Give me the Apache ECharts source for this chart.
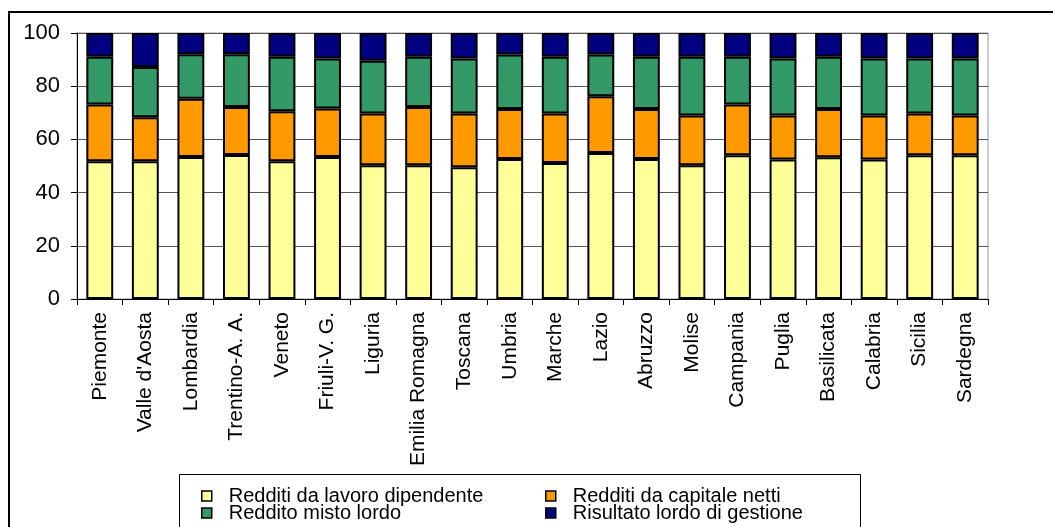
<!DOCTYPE html>
<html>
<head>
<meta charset="utf-8">
<script src="https://cdn.jsdelivr.net/npm/echarts@6/dist/echarts.min.js"></script>
<style>
html,body{margin:0;padding:0;background:#fff;}
#chart{width:1053px;height:527px;}
</style>
</head>
<body>
<div id="chart"></div>
<script>
var regions = ["Piemonte","Valle d'Aosta","Lombardia","Trentino-A. A.","Veneto","Friuli-V. G.","Liguria","Emilia Romagna","Toscana","Umbria","Marche","Lazio","Abruzzo","Molise","Campania","Puglia","Basilicata","Calabria","Sicilia","Sardegna"];
var lavoroDipendente = [51.8,51.8,53.4,54.1,51.8,53.4,50.3,50.3,49.5,52.6,51.1,54.9,52.6,50.3,54.0,52.4,53.3,52.4,54.0,54.0];
var capitaleNetti    = [21.3,16.5,21.9,18.1,18.8,18.2,19.4,21.9,20.2,18.8,18.6,21.3,18.8,18.7,19.1,16.6,18.1,16.6,15.7,15.0];
var mistoLordo       = [18.0,18.9,16.7,19.8,20.5,18.8,19.9,18.9,20.7,20.5,21.4,15.7,19.7,22.1,18.0,21.4,19.7,21.4,20.7,21.4];
var risultatoGestione= [8.9,12.8,8.0,8.0,8.9,9.6,10.4,8.9,9.6,8.1,8.9,8.1,8.9,8.9,8.9,9.6,8.9,9.6,9.6,9.6];
var yTicks = [0,20,40,60,80,100];
var seriesNames = ["Redditi da lavoro dipendente","Redditi da capitale netti","Reddito misto lordo","Risultato lordo di gestione"];
var titleText = "(composizione percentuale)";

var FONT = "'Liberation Sans', Arial, sans-serif";
var colors = ["#FFFF99","#FF9900","#339966","#000080"];
var values = [lavoroDipendente, capitaleNetti, mistoLordo, risultatoGestione];

var chart = echarts.init(document.getElementById('chart'), null, {renderer:'canvas'});
var series = seriesNames.map(function(n,i){
  return {
    name:n, type:'bar', stack:'tot', data:values[i],
    barCategoryGap:'41%',
    itemStyle:{color:colors[i], borderColor:'#000', borderWidth:2},
    emphasis:{disabled:true}
  };
});
// legend slots: [left, top] for each series name
var legendPos = [[196,481],[540,481],[196,498],[540,498]];
var legends = seriesNames.map(function(n,i){
  return {
    data:[n], left:legendPos[i][0], top:legendPos[i][1],
    itemWidth:10, itemHeight:10, icon:'rect', selectedMode:false,
    itemStyle:{borderColor:'#000', borderWidth:1.5},
    textStyle:{color:'#000', fontFamily:FONT, fontSize:20, lineHeight:17, padding:[0,0,0,12]}
  };
});
chart.setOption({
  animation:false,
  backgroundColor:'#fff',
  grid:{left:77, right:65, top:33, bottom:228, show:true, borderColor:'#999', borderWidth:1},
  graphic:[
    {type:'rect', shape:{x:9, y:12, width:1100, height:600}, style:{fill:null, stroke:'#000', lineWidth:2}, silent:true, z:-1},
    {type:'rect', shape:{x:179.5, y:474.5, width:681, height:80}, style:{fill:null, stroke:'#000', lineWidth:1}, silent:true},
    {type:'text', left:'center', top:-24, style:{text:titleText, fill:'#FF6600', font:"bold 24px 'Liberation Serif', 'Times New Roman', serif"}, silent:true}
  ],
  legend:legends,
  xAxis:{
    type:'category', data:regions,
    axisLine:{lineStyle:{color:'#000', width:1}},
    axisTick:{show:true, length:6, lineStyle:{color:'#000'}},
    axisLabel:{rotate:90, interval:0, margin:13, color:'#000', fontFamily:FONT, fontSize:21}
  },
  yAxis:{
    type:'value', min:0, max:100, interval:20,
    axisLine:{show:true, lineStyle:{color:'#000', width:1}},
    axisTick:{show:true, length:6, lineStyle:{color:'#000'}},
    axisLabel:{margin:17, color:'#000', fontFamily:FONT, fontSize:22,
      formatter:function(v){ return yTicks.indexOf(v)>=0 ? String(v) : ''; }},
    splitLine:{show:true, lineStyle:{color:'#555', width:1}}
  },
  series:series
});
</script>
</body>
</html>
